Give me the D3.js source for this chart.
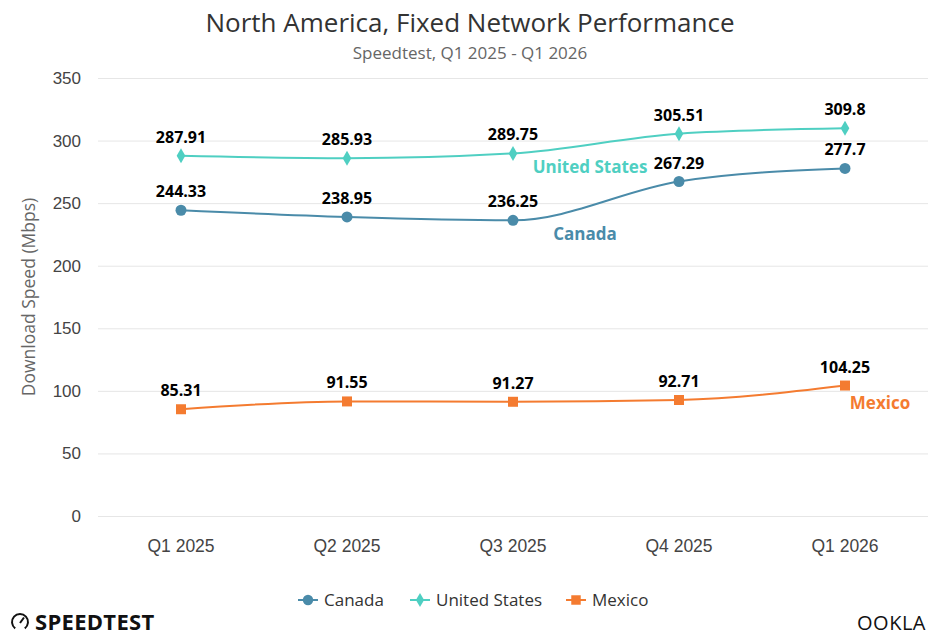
<!DOCTYPE html>
<html>
<head>
<meta charset="utf-8">
<script src="https://cdn.jsdelivr.net/npm/d3@7"></script>
<style>
  body { margin: 0; background: #fff; }
  svg { font-family: "Open Sans", "Noto Sans", sans-serif; }
</style>
</head>
<body>
<div id="chart"></div>
<script>
const quarters = ["Q1 2025", "Q2 2025", "Q3 2025", "Q4 2025", "Q1 2026"];
const canada = [244.33, 238.95, 236.25, 267.29, 277.7];
const unitedStates = [287.91, 285.93, 289.75, 305.51, 309.8];
const mexico = [85.31, 91.55, 91.27, 92.71, 104.25];
const yTicks = [0, 50, 100, 150, 200, 250, 300, 350];

const series = [
  { name: "Canada", values: canada, color: "#4a8ba9", symbol: d3.symbolCircle, size: 95, label: { x: 585, y: 240 } },
  { name: "United States", values: unitedStates, color: "#4fcfc2", symbol: d3.symbolDiamond, size: 65, label: { x: 590, y: 173 } },
  { name: "Mexico", values: mexico, color: "#f47b30", symbol: d3.symbolSquare, size: 100, label: { x: 880, y: 409 } }
];

const W = 940, H = 638;
const svg = d3.select("#chart").append("svg").attr("width", W).attr("height", H);

const x = d3.scaleBand().domain(quarters).range([98, 928]);
const y = d3.scaleLinear().domain([0, 350]).range([516, 78]);

// title
svg.append("text").attr("x", 470).attr("y", 32).attr("text-anchor", "middle")
  .style("font-size", "26px").style("fill", "#333").text("North America, Fixed Network Performance");
svg.append("text").attr("x", 470).attr("y", 59).attr("text-anchor", "middle")
  .style("font-size", "17px").style("fill", "#666").text("Speedtest, Q1 2025 - Q1 2026");

// grid + y axis
const yAxis = svg.append("g").attr("transform", "translate(98,0)")
  .call(d3.axisLeft(y).tickValues(yTicks).tickSize(-830).tickPadding(17));
yAxis.select(".domain").remove();
yAxis.selectAll(".tick line").attr("stroke", "#e6e6e6");
yAxis.selectAll(".tick text").style("font-size", "17px").style("fill", "#444");

svg.append("text").attr("transform", "translate(35,297) rotate(-90)").attr("text-anchor", "middle")
  .style("font-size", "17.5px").style("fill", "#666").text("Download Speed (Mbps)");

// x axis
const xAxis = svg.append("g").attr("transform", "translate(0,516)")
  .call(d3.axisBottom(x).tickSize(0).tickPadding(24));
xAxis.select(".domain").remove();
xAxis.selectAll(".tick text").style("font-size", "17.5px").style("fill", "#444");

const line = d3.line()
  .x((d, i) => x(quarters[i]) + x.bandwidth() / 2)
  .y(d => y(d))
  .curve(d3.curveMonotoneX);

series.forEach(s => {
  svg.append("path").datum(s.values)
    .attr("fill", "none").attr("stroke", s.color).attr("stroke-width", 2).attr("d", line);

  svg.selectAll(null).data(s.values).join("path")
    .attr("transform", (d, i) => `translate(${x(quarters[i]) + x.bandwidth() / 2},${y(d)})`)
    .attr("d", d3.symbol().type(s.symbol).size(s.size))
    .attr("fill", s.color);

  svg.selectAll(null).data(s.values).join("text")
    .attr("x", (d, i) => x(quarters[i]) + x.bandwidth() / 2)
    .attr("y", d => y(d) - 13)
    .attr("text-anchor", "middle")
    .style("font-size", "16px").style("font-weight", "bold").style("fill", "#000")
    .text(d => d);

  svg.append("text").attr("x", s.label.x).attr("y", s.label.y).attr("text-anchor", "middle")
    .style("font-size", "17px").style("font-weight", "bold").style("fill", s.color).text(s.name);
});

// legend
const legendX = [298, 410, 566];
const legend = svg.append("g").attr("transform", "translate(0,600)");
series.forEach((s, i) => {
  const g = legend.append("g").attr("transform", `translate(${legendX[i]},0)`);
  g.append("line").attr("x1", 0).attr("x2", 20).attr("stroke", s.color).attr("stroke-width", 2);
  g.append("path").attr("transform", "translate(10,0)")
    .attr("d", d3.symbol().type(s.symbol).size(s.size * 0.9)).attr("fill", s.color);
  g.append("text").attr("x", 26).attr("y", 6).style("font-size", "17px").style("fill", "#333").text(s.name);
});

// logos
const st = svg.append("g").attr("transform", "translate(20,622)");
st.append("path").attr("d", d3.arc()({ innerRadius: 7, outerRadius: 9, startAngle: -2.5, endAngle: 2.5 }))
  .attr("fill", "#111");
st.append("line").attr("x1", 0).attr("y1", 1).attr("x2", 4).attr("y2", -4.5).attr("stroke", "#111").attr("stroke-width", 2);
st.append("text").attr("x", 15).attr("y", 8).style("font-size", "22px").style("font-weight", "bold")
  .style("letter-spacing", "0.3px").style("fill", "#111").text("SPEEDTEST");

svg.append("text").attr("x", 926).attr("y", 630).attr("text-anchor", "end")
  .style("font-size", "20px").style("letter-spacing", "0.5px").style("fill", "#111").text("OOKLA");
</script>
</body>
</html>
